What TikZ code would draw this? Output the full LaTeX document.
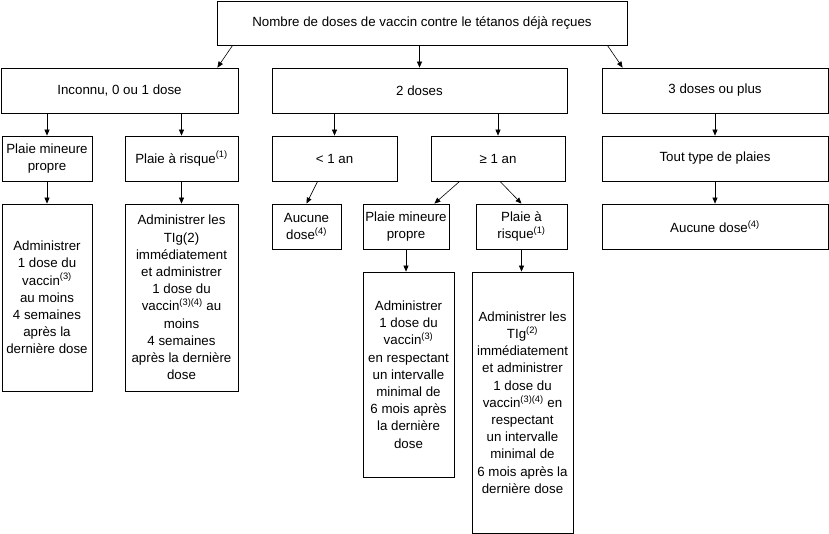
\documentclass[tikz,border=0pt]{standalone}
\usepackage{fontspec}
\setmainfont{Liberation Sans}
\usetikzlibrary{arrows.meta}

\begin{document}
\begin{tikzpicture}[x=1pt,y=-1pt,
    box/.style={draw,line width=0.8pt,inner sep=0pt,align=center,
      font=\fontsize{13.3}{17.2}\selectfont},
    arr/.style={-{Triangle[length=6pt,width=5pt]},line width=0.6pt}]
    % cadre de la page
    \useasboundingbox (0,0) rectangle (829,534);

    % niveau 1
    \node[box,minimum width=410,minimum height=44] (nombre) at (422,23) {Nombre de doses de vaccin contre le tétanos déjà reçues};

    % niveau 2
    \node[box,minimum width=237,minimum height=45] (inconnu) at (119.5,90.5) {Inconnu, 0 ou 1 dose};
    \node[box,minimum width=295,minimum height=45] (deux) at (419.5,90.5) {2 doses};
    \node[box,minimum width=226,minimum height=45] (trois) at (715,90.5) {3 doses ou plus};

    % niveau 3
    \node[box,minimum width=90,minimum height=45] (pmA) at (47,158.5) {Plaie mineure\\propre};
    \node[box,minimum width=113,minimum height=45] (prA) at (181.5,158.5) {Plaie à risque\textsuperscript{(1)}};
    \node[box,minimum width=125,minimum height=45] (moins) at (334.5,158.5) {< 1 an};
    \node[box,minimum width=134,minimum height=45] (plus) at (498,158.5) {≥ 1 an};
    \node[box,minimum width=226,minimum height=45] (tout) at (715,158.5) {Tout type de plaies};

    % niveau 4
    \node[box,minimum width=90,minimum height=187] (adA) at (47,297.5) {Administrer\\1 dose du\\vaccin\textsuperscript{(3)}\\au moins\\4 semaines\\après la\\dernière dose};
    \node[box,minimum width=113,minimum height=187] (adB) at (181.5,297.5) {Administrer les\\TIg(2)\\immédiatement\\et administrer\\1 dose du\\vaccin\textsuperscript{(3)(4)} au\\moins\\4 semaines\\après la dernière\\dose};
    \node[box,minimum width=69,minimum height=45] (aucA) at (306.5,226.5) {Aucune\\dose\textsuperscript{(4)}};
    \node[box,minimum width=86,minimum height=45] (pmB) at (406,226.5) {Plaie mineure\\propre};
    \node[box,minimum width=91,minimum height=45] (prB) at (521.5,226.5) {Plaie à\\risque\textsuperscript{(1)}};
    \node[box,minimum width=226,minimum height=45] (aucB) at (715,226.5) {Aucune dose\textsuperscript{(4)}};

    % niveau 5
    \node[box,minimum width=91,minimum height=205] (adC) at (408.5,374.5) {Administrer\\1 dose du\\vaccin\textsuperscript{(3)}\\en respectant\\un intervalle\\minimal de\\6 mois après\\la dernière\\dose};
    \node[box,minimum width=101,minimum height=261] (adD) at (522.5,402.5) {Administrer les\\TIg\textsuperscript{(2)}\\immédiatement\\et administrer\\1 dose du\\vaccin\textsuperscript{(3)(4)} en\\respectant\\un intervalle\\minimal de\\6 mois après la\\dernière dose};

    % fleches
    \draw[arr] ([xshift=16]nombre.south west) -- ([xshift=-21]inconnu.north east);
    \draw[arr] (deux.north |- nombre.south) -- (deux.north);
    \draw[arr] ([xshift=-20]nombre.south east) -- ([xshift=21]trois.north west);
    \draw[arr] (inconnu.south -| pmA.north) -- (pmA.north);
    \draw[arr] (inconnu.south -| prA.north) -- (prA.north);
    \draw[arr] (deux.south -| moins.north) -- (moins.north);
    \draw[arr] (deux.south -| plus.north) -- (plus.north);
    \draw[arr] (trois.south) -- (tout.north);
    \draw[arr] (pmA.south) -- (adA.north);
    \draw[arr] (prA.south) -- (adB.north);
    \draw[arr] ([xshift=46]moins.south west) -- (aucA.north);
    \draw[arr] ([xshift=29]plus.south west) -- ([xshift=-15]pmB.north east);
    \draw[arr] ([xshift=2]plus.south) -- (prB.north);
    \draw[arr] (pmB.south) -- (pmB.south |- adC.north);
    \draw[arr] (prB.south) -- (prB.south |- adD.north);
    \draw[arr] (tout.south) -- (aucB.north);
\end{tikzpicture}
\end{document}
